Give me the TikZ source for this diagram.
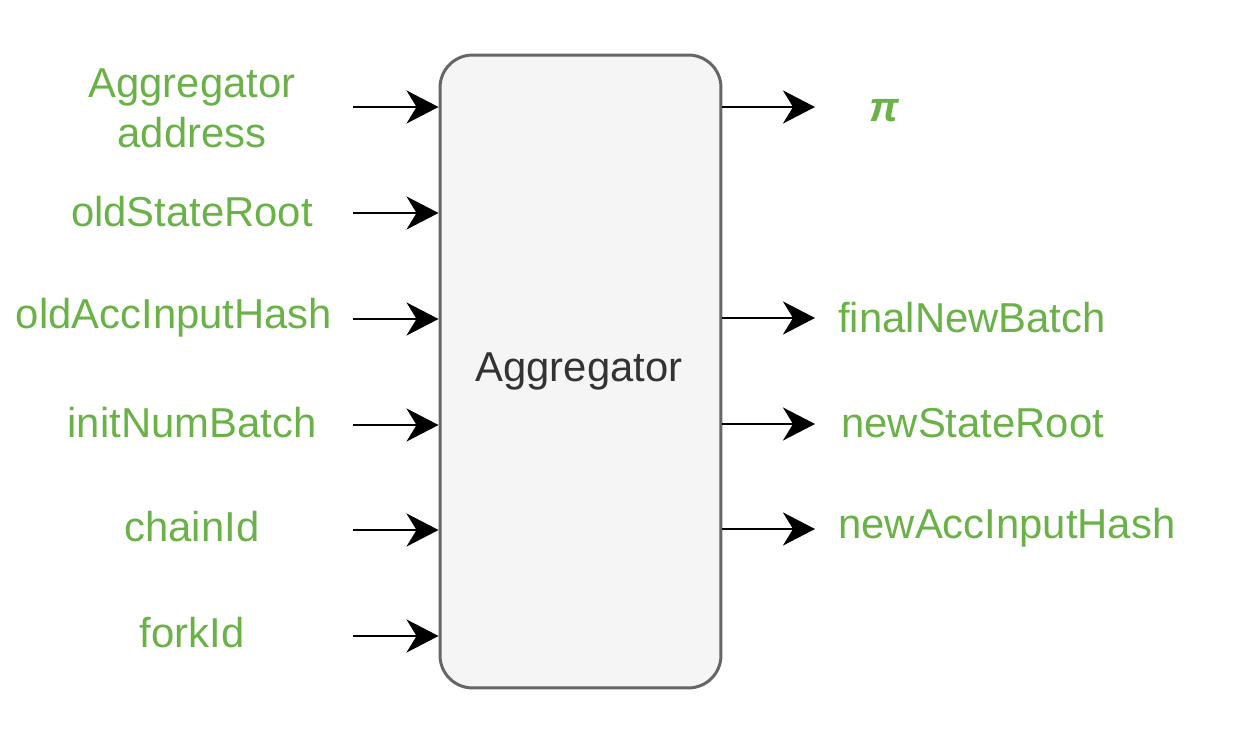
\documentclass[tikz,border=0pt]{standalone}
\usepackage{fontspec}
\setmainfont{Liberation Sans}
\usetikzlibrary{arrows.meta,positioning}
\definecolor{lblgreen}{RGB}{106,178,72}
\definecolor{boxfill}{RGB}{245,245,245}
\definecolor{boxline}{RGB}{102,102,102}
\definecolor{boxtext}{RGB}{51,51,51}
\tikzstyle{sig}=[text=lblgreen,font=\fontsize{23.8}{28.5}\selectfont,inner sep=0pt,align=center]
\tikzstyle{unit}=[draw=boxline,fill=boxfill,line width=1.7pt,rounded corners=0.65cm,minimum width=5.62cm,minimum height=12.66cm,inner sep=0pt]
\tikzstyle{wire}=[line width=1.4pt,-{Stealth[length=0.64cm,width=0.66cm,inset=0.2cm]}]

\begin{document}
\begin{tikzpicture}[x=0.02cm,y=-0.02cm]
\useasboundingbox (0,0) rectangle (1245,740);
\node[unit] (agg) at (580.5,371.5) {};
\node[text=boxtext,font=\fontsize{23.8}{28.5}\selectfont] (aggname) at (579,371) {Aggregator};
% inputs
\node[sig] (addr) at (192,108) {Aggregator\\address};
\node[sig] (osr) at (192,212) {oldStateRoot};
\node[sig] (oaih) at (174,318) {oldAccInputHash};
\node[sig] (inb) at (192,423) {initNumBatch};
\node[sig] (cid) at (192,527) {chainId};
\node[sig] (fid) at (192,633) {forkId};
\coordinate (i1) at (353,107);
\coordinate (i2) at (353,213);
\coordinate (i3) at (353,319);
\coordinate (i4) at (353,425);
\coordinate (i5) at (353,530);
\coordinate (i6) at (353,636);
% outputs
\node[sig] (pi) at (884,111) {\bfseries\itshape π};
\node[sig,anchor=west] (fnb) at (838,318) {finalNewBatch};
\node[sig,anchor=west] (nsr) at (841,423) {newStateRoot};
\node[sig,anchor=west] (naih) at (838,528) {newAccInputHash};
\coordinate (o1) at (815,107);
\coordinate (o2) at (815,318);
\coordinate (o3) at (815,424);
\coordinate (o4) at (815,529);
\path[wire]
(i1) edge (i1 -| agg.west)
(i2) edge (i2 -| agg.west)
(i3) edge (i3 -| agg.west)
(i4) edge (i4 -| agg.west)
(i5) edge (i5 -| agg.west)
(i6) edge (i6 -| agg.west)
(o1 -| agg.east) edge (o1)
(o2 -| agg.east) edge (o2)
(o3 -| agg.east) edge (o3)
(o4 -| agg.east) edge (o4);
\end{tikzpicture}
\end{document}
